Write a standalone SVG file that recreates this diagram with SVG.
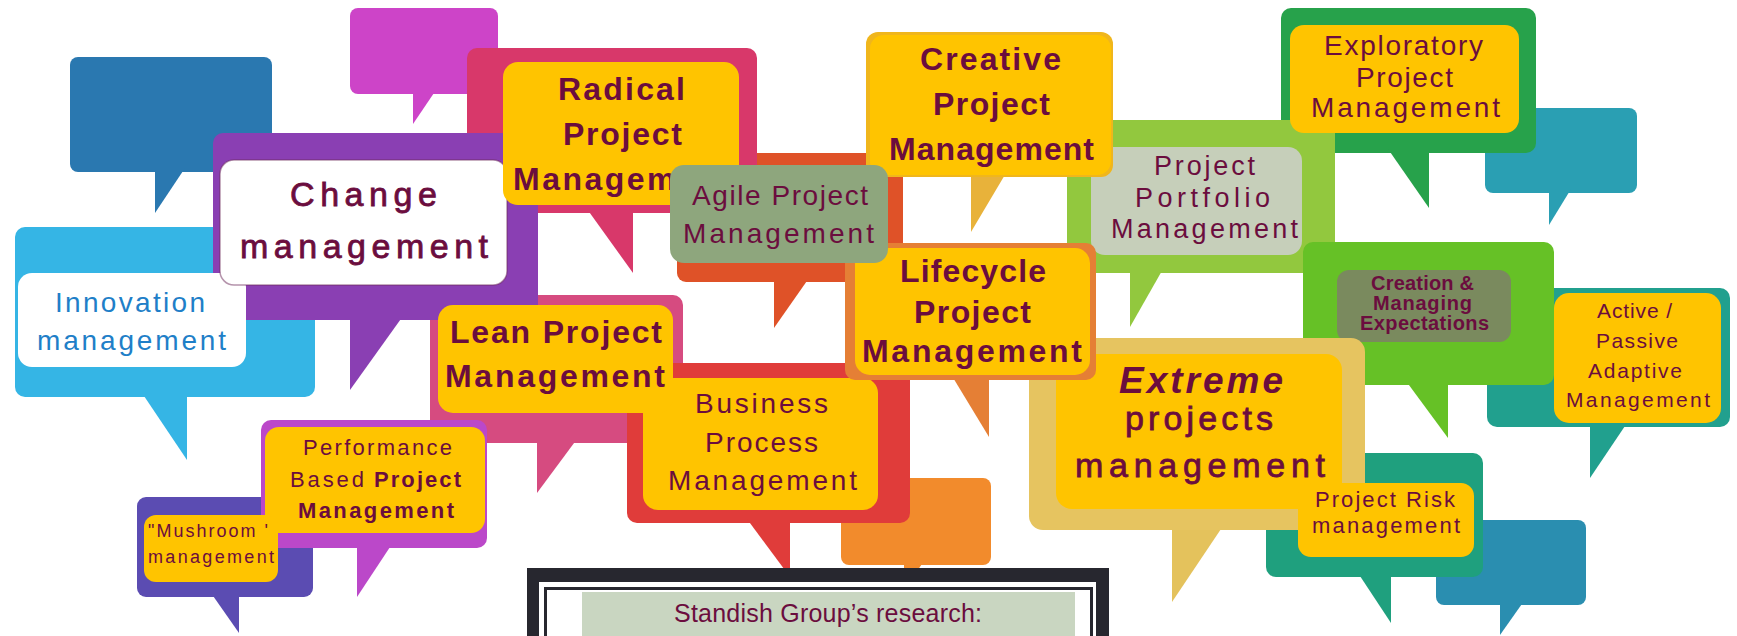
<svg xmlns="http://www.w3.org/2000/svg" width="1737" height="636" viewBox="0 0 1737 636">
  <style>
    .t { font-family: "Liberation Sans", Arial, Helvetica, sans-serif; fill: #6b0d3e; }
    .b { font-weight: bold; }
    .i { font-style: italic; }
    .m { stroke: #6b0d3e; stroke-width: 0.8; }
    .blue { fill: #1f7fc8; }
    .yel { fill: #ffc400; }
  </style>
  <rect width="1737" height="636" fill="#ffffff"/>

  <!-- background bubbles, back to front -->
  <g id="bubble-darkblue" fill="#2a78b0">
    <rect x="70" y="57" width="202" height="115" rx="8"/>
    <path d="M155 168 L185 168 L155 213 Z"/>
  </g>
  <g id="bubble-magenta" fill="#cd44c8">
    <rect x="350" y="8" width="148" height="86" rx="8"/>
    <path d="M413 90 L436 90 L413 124 Z"/>
  </g>
  <g id="agile-frame" fill="#df5228">
    <rect x="677" y="153" width="226" height="129" rx="9"/>
    <path d="M774 278 L809 278 L774 328 Z"/>
  </g>
  <g id="radical-frame" fill="#d8386a">
    <rect x="467" y="48" width="290" height="165" rx="10"/>
    <path d="M587 209 L633 209 L633 273 Z"/>
  </g>
  <g id="innovation-frame" fill="#35b5e5">
    <rect x="15" y="227" width="300" height="170" rx="10"/>
    <path d="M142 393 L187 393 L187 460 Z"/>
  </g>
  <g id="lean-frame" fill="#d64b80">
    <rect x="430" y="295" width="253" height="148" rx="10"/>
    <path d="M537 439 L577 439 L537 493 Z"/>
  </g>
  <g id="change-frame" fill="#8a3fb3">
    <rect x="213" y="133" width="325" height="187" rx="10"/>
    <path d="M350 316 L403 316 L350 390 Z"/>
  </g>

  <!-- Innovation management -->
  <g id="node-innovation">
    <rect x="18" y="273" width="228" height="94" rx="14" fill="#ffffff"/>
    <text class="t blue" x="55" y="312" font-size="28" textLength="150" lengthAdjust="spacing">Innovation</text>
    <text class="t blue" x="37" y="350" font-size="28" textLength="189" lengthAdjust="spacing">management</text>
  </g>

  <!-- Change management -->
  <g id="node-change">
    <rect x="220" y="160" width="287" height="125" rx="14" fill="#ffffff" stroke="#6b2a5a" stroke-opacity="0.5" stroke-width="1.5"/>
    <text class="t m" x="290" y="206" font-size="34" textLength="147" lengthAdjust="spacing">Change</text>
    <text class="t m" x="240" y="258" font-size="34" textLength="248" lengthAdjust="spacing">management</text>
  </g>

  <!-- Radical Project Management -->
  <g id="node-radical">
    <rect x="503" y="62" width="236" height="143" rx="15" class="yel"/>
    <text class="t b" x="558" y="100" font-size="32" textLength="127" lengthAdjust="spacing">Radical</text>
    <text class="t b" x="563" y="145" font-size="32" textLength="119" lengthAdjust="spacing">Project</text>
    <text class="t b" x="513" y="190" font-size="32" textLength="218" lengthAdjust="spacing">Management</text>
  </g>

  <!-- bottom orange bubble -->
  <g id="bubble-orange" fill="#f28b2c">
    <rect x="841" y="478" width="150" height="87" rx="8"/>
    <path d="M904 561 L924 561 L904 590 Z"/>
  </g>

  <!-- Business Process Management -->
  <g id="node-business-frame" fill="#e03c3a">
    <rect x="627" y="363" width="283" height="160" rx="10"/>
    <path d="M747 519 L790 519 L790 577 Z"/>
  </g>
  <g id="node-business">
    <rect x="643" y="378" width="235" height="132" rx="15" class="yel"/>
    <text class="t" x="695" y="413" font-size="28" textLength="133" lengthAdjust="spacing">Business</text>
    <text class="t" x="705" y="452" font-size="28" textLength="113" lengthAdjust="spacing">Process</text>
    <text class="t" x="668" y="490" font-size="28" textLength="189" lengthAdjust="spacing">Management</text>
  </g>

  <!-- Lean Project Management -->
  <g id="node-lean">
    <rect x="438" y="305" width="235" height="108" rx="15" class="yel"/>
    <text class="t b" x="450" y="343" font-size="32" textLength="212" lengthAdjust="spacing">Lean Project</text>
    <text class="t b" x="445" y="387" font-size="32" textLength="220" lengthAdjust="spacing">Management</text>
  </g>

  <!-- right-hand cluster -->
  <g id="bubble-teal-top" fill="#2a9fb3">
    <rect x="1485" y="108" width="152" height="85" rx="8"/>
    <path d="M1549 189 L1571 189 L1549 225 Z"/>
  </g>
  <g id="exploratory-frame" fill="#27a24b">
    <rect x="1281" y="8" width="255" height="145" rx="10"/>
    <path d="M1388 149 L1429 149 L1429 208 Z"/>
  </g>
  <g id="portfolio-frame" fill="#92c83e">
    <rect x="1067" y="120" width="268" height="153" rx="10"/>
    <path d="M1130 269 L1163 269 L1130 327 Z"/>
  </g>
  <g id="node-portfolio">
    <rect x="1091" y="147" width="211" height="108" rx="14" fill="#c6cfba"/>
    <text class="t" x="1154" y="175" font-size="27" textLength="101" lengthAdjust="spacing">Project</text>
    <text class="t" x="1135" y="207" font-size="27" textLength="135" lengthAdjust="spacing">Portfolio</text>
    <text class="t" x="1111" y="238" font-size="27" textLength="187" lengthAdjust="spacing">Management</text>
  </g>
  <g id="node-exploratory">
    <rect x="1290" y="25" width="229" height="108" rx="14" class="yel"/>
    <text class="t" x="1324" y="55" font-size="28" textLength="159" lengthAdjust="spacing">Exploratory</text>
    <text class="t" x="1356" y="87" font-size="28" textLength="97" lengthAdjust="spacing">Project</text>
    <text class="t" x="1311" y="117" font-size="28" textLength="189" lengthAdjust="spacing">Management</text>
  </g>

  <!-- Creative Project Management -->
  <g id="node-creative">
    <path d="M971 173 L1006 173 L971 232 Z" fill="#e8b23a"/>
    <rect x="866" y="32" width="247" height="145" rx="12" fill="#f0b61c"/>
    <rect x="870" y="35" width="241" height="140" rx="14" class="yel"/>
    <text class="t b" x="920" y="70" font-size="32" textLength="141" lengthAdjust="spacing">Creative</text>
    <text class="t b" x="933" y="115" font-size="32" textLength="117" lengthAdjust="spacing">Project</text>
    <text class="t b" x="889" y="160" font-size="32" textLength="205" lengthAdjust="spacing">Management</text>
  </g>

  <!-- Active / Passive Adaptive Management -->
  <g id="active-frame" fill="#21a08e">
    <rect x="1487" y="288" width="243" height="139" rx="10"/>
    <path d="M1590 423 L1627 423 L1590 478 Z"/>
  </g>
  <g id="creation-frame" fill="#66c126">
    <rect x="1303" y="242" width="251" height="143" rx="10"/>
    <path d="M1406 381 L1448 381 L1448 438 Z"/>
  </g>
  <g id="node-creation">
    <rect x="1337" y="270" width="174" height="72" rx="12" fill="#7a8a5e"/>
    <text class="t b" x="1371" y="290" font-size="20" textLength="103" lengthAdjust="spacing">Creation &amp;</text>
    <text class="t b" x="1373" y="310" font-size="20" textLength="99" lengthAdjust="spacing">Managing</text>
    <text class="t b" x="1360" y="330" font-size="20" textLength="129" lengthAdjust="spacing">Expectations</text>
  </g>
  <g id="node-active">
    <rect x="1554" y="293" width="167" height="130" rx="15" class="yel"/>
    <text class="t" x="1597" y="318" font-size="21" textLength="75" lengthAdjust="spacing">Active /</text>
    <text class="t" x="1596" y="348" font-size="21" textLength="82" lengthAdjust="spacing">Passive</text>
    <text class="t" x="1588" y="378" font-size="21" textLength="94" lengthAdjust="spacing">Adaptive</text>
    <text class="t" x="1566" y="407" font-size="21" textLength="144" lengthAdjust="spacing">Management</text>
  </g>

  <!-- Extreme projects management and Project Risk management -->
  <g id="bubble-blue-bottom" fill="#2a8eb0">
    <rect x="1436" y="520" width="150" height="85" rx="8"/>
    <path d="M1500 601 L1524 601 L1500 635 Z"/>
  </g>
  <g id="risk-frame" fill="#1fa07e">
    <rect x="1266" y="453" width="217" height="124" rx="10"/>
    <path d="M1358 573 L1391 573 L1391 623 Z"/>
  </g>
  <g id="node-extreme">
    <path d="M1172 526 L1223 526 L1172 602 Z" fill="#e4c25c"/>
    <rect x="1029" y="338" width="336" height="192" rx="14" fill="#e6c460"/>
    <rect x="1056" y="354" width="286" height="155" rx="16" class="yel"/>
    <text class="t b i" x="1119" y="393" font-size="37" textLength="164" lengthAdjust="spacing">Extreme</text>
    <text class="t m" x="1125" y="430" font-size="34" textLength="148" lengthAdjust="spacing">projects</text>
    <text class="t m" x="1075" y="477" font-size="34" textLength="250" lengthAdjust="spacing">management</text>
  </g>
  <g id="node-risk">
    <rect x="1298" y="483" width="176" height="74" rx="13" class="yel"/>
    <text class="t" x="1315" y="507" font-size="22" textLength="140" lengthAdjust="spacing">Project Risk</text>
    <text class="t" x="1312" y="533" font-size="22" textLength="148" lengthAdjust="spacing">management</text>
  </g>

  <!-- Lifecycle Project Management -->
  <g id="node-lifecycle">
    <path d="M952 376 L989 376 L989 437 Z" fill="#e57f35"/>
    <rect x="845" y="243" width="251" height="137" rx="10" fill="#e57f35"/>
    <rect x="855" y="248" width="235" height="127" rx="15" class="yel"/>
    <text class="t b" x="900" y="282" font-size="32" textLength="146" lengthAdjust="spacing">Lifecycle</text>
    <text class="t b" x="914" y="323" font-size="32" textLength="117" lengthAdjust="spacing">Project</text>
    <text class="t b" x="862" y="362" font-size="32" textLength="220" lengthAdjust="spacing">Management</text>
  </g>

  <!-- Agile Project Management -->
  <g id="node-agile">
    <rect x="670" y="165" width="218" height="98" rx="14" fill="#8ea67d"/>
    <text class="t" x="692" y="205" font-size="28" textLength="176" lengthAdjust="spacing">Agile Project</text>
    <text class="t" x="683" y="243" font-size="28" textLength="191" lengthAdjust="spacing">Management</text>
  </g>

  <!-- Performance Based Project Management and "Mushroom" management -->
  <g id="mushroom-frame" fill="#5b4cb2">
    <rect x="137" y="497" width="176" height="100" rx="9"/>
    <path d="M211 593 L239 593 L239 633 Z"/>
  </g>
  <g id="node-performance">
    <path d="M357 544 L392 544 L357 597 Z" fill="#bb48c9"/>
    <rect x="261" y="420" width="226" height="128" rx="10" fill="#bb48c9"/>
    <rect x="265" y="427" width="220" height="106" rx="14" class="yel"/>
    <text class="t" x="303" y="455" font-size="22" textLength="149" lengthAdjust="spacing">Performance</text>
    <text class="t" x="290" y="487" font-size="22" textLength="74" lengthAdjust="spacing">Based</text>
    <text class="t b" x="374" y="487" font-size="22" textLength="87" lengthAdjust="spacing">Project</text>
    <text class="t b" x="298" y="518" font-size="22" textLength="156" lengthAdjust="spacing">Management</text>
  </g>
  <g id="node-mushroom">
    <rect x="144" y="515" width="134" height="67" rx="12" class="yel"/>
    <text class="t" x="148" y="537" font-size="18" textLength="120" lengthAdjust="spacing">"Mushroom '</text>
    <text class="t" x="148" y="563" font-size="18" textLength="126" lengthAdjust="spacing">management</text>
  </g>

  <!-- framed note at the bottom -->
  <g id="node-standish">
    <rect x="527" y="568" width="582" height="80" fill="#27272f"/>
    <rect x="539" y="582" width="557" height="60" fill="#ffffff"/>
    <rect x="545.5" y="588.5" width="546" height="60" fill="#ffffff" stroke="#27272f" stroke-width="3"/>
    <rect x="582" y="592" width="493" height="50" fill="#c9d6c1"/>
    <text class="t" x="674" y="622" font-size="25" textLength="308" lengthAdjust="spacing">Standish Group’s research:</text>
  </g>
</svg>
